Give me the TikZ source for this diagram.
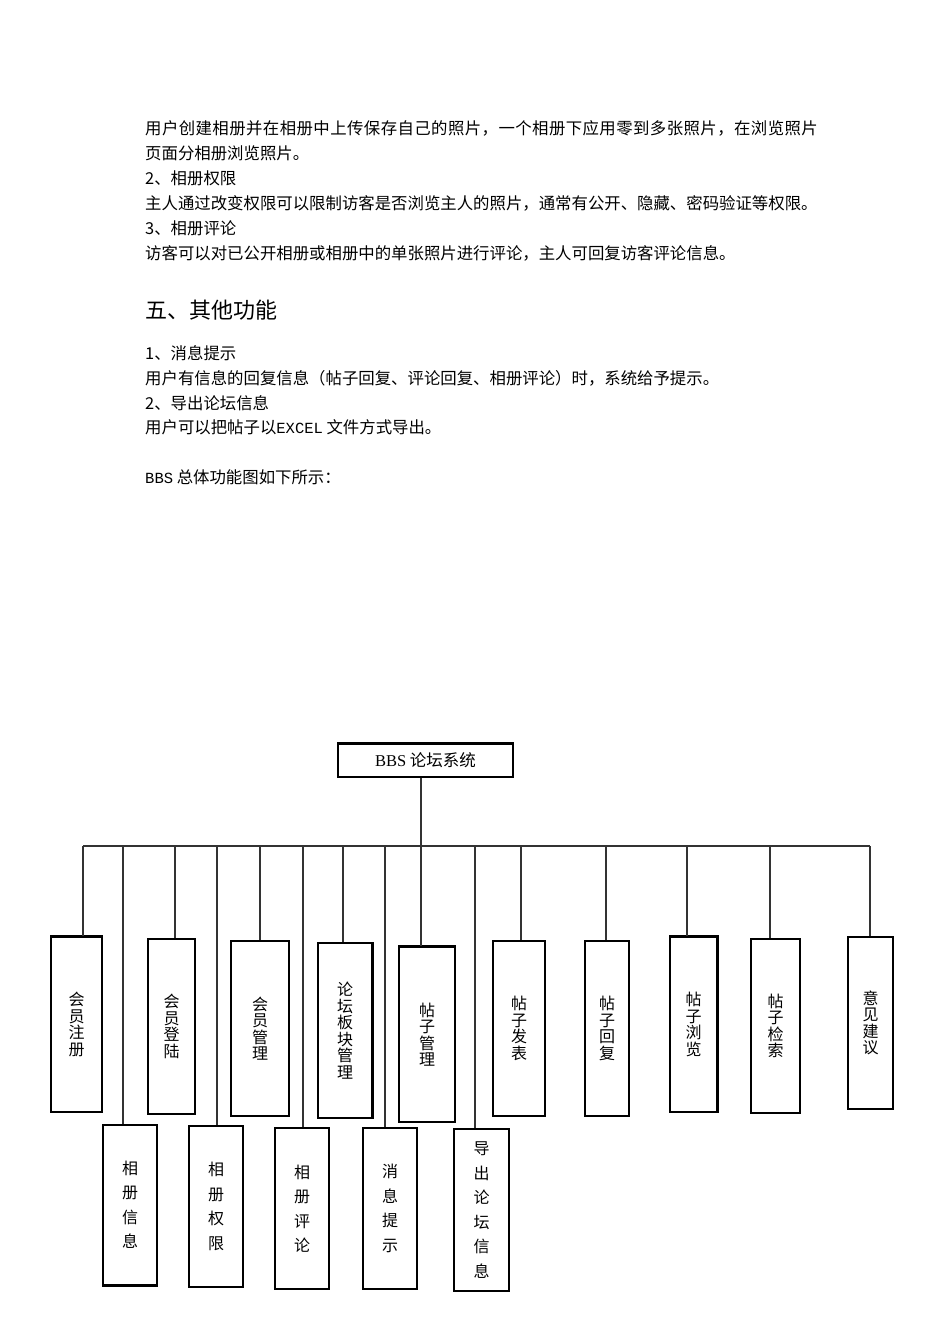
\documentclass[tikz,border=0pt]{standalone}
\usepackage{fontspec}
\setmainfont{Noto Sans CJK SC}
\newfontfamily\latn{Liberation Mono}
\newfontfamily\seri{Liberation Serif}
\begin{document}
\begin{tikzpicture}[x=1pt,y=-1pt,
  txt/.style={anchor=west, inner sep=0pt, font=\fontsize{16.4}{18}\selectfont, text height=14.4pt, text depth=2pt},
  head/.style={anchor=west, inner sep=0pt, font=\fontsize{22}{24}\selectfont, text height=19.4pt, text depth=2.6pt},
  topbox/.style={draw, line width=1.2pt, inner sep=0pt, align=center, font=\fontsize{16}{16.5}\selectfont},
  lowbox/.style={draw, line width=1.2pt, inner sep=0pt, align=center, font=\fontsize{16}{24.5}\selectfont},
  link/.style={draw=black!80, line width=1.4pt},
  heavy/.style={line width=2.4pt}]
\useasboundingbox[fill=white] (0,0) rectangle (950,1344);

% ---- body text ----
\node[txt] (t1) at (145,128) {\addfontfeature{LetterSpace=2.6}用户创建相册并在相册中上传保存自己的照片，一个相册下应用零到多张照片，在浏览照片};
\node[txt] (t2) at (145,153) {页面分相册浏览照片。};
\node[txt] (t3) at (145,178) {2、相册权限};
\node[txt] (t4) at (145,203) {主人通过改变权限可以限制访客是否浏览主人的照片，通常有公开、隐藏、密码验证等权限。};
\node[txt] (t5) at (145,228) {3、相册评论};
\node[txt] (t6) at (145,253) {访客可以对已公开相册或相册中的单张照片进行评论，主人可回复访客评论信息。};
\node[head] (h1) at (145,310) {五、其他功能};
\node[txt] (t7) at (145,353) {1、消息提示};
\node[txt] (t8) at (145,378) {用户有信息的回复信息（帖子回复、评论回复、相册评论）时，系统给予提示。};
\node[txt] (t9) at (145,403) {2、导出论坛信息};
\node[txt] (t10) at (145,427) {用户可以把帖子以{\latn\fontsize{15.5}{18}\selectfont EXCEL} 文件方式导出。};
\node[txt] (t11) at (145,477) {{\latn\fontsize{15.5}{18}\selectfont BBS} 总体功能图如下所示：};

% ---- root ----
\node[draw, line width=1.2pt, minimum width=175pt, minimum height=33pt, inner sep=0pt,
      font=\fontsize{16.5}{18}\selectfont] (root) at (425.5,760.5) {{\seri BBS} 论坛系统};
\draw[heavy] (root.north west) -- (root.north east);

% ---- top row boxes ----
\node[topbox, minimum width=51pt, minimum height=175pt] (b1) at (76.5,1024.5) {会\\员\\注\\册};
\node[topbox, minimum width=47pt, minimum height=175pt] (b3) at (171.5,1026.5) {会\\员\\登\\陆};
\node[topbox, minimum width=58pt, minimum height=175pt] (b5) at (260,1028.5) {会\\员\\管\\理};
\node[topbox, minimum width=54pt, minimum height=175pt] (b7) at (345,1030.5) {论\\坛\\板\\块\\管\\理};
\node[topbox, minimum width=56pt, minimum height=175pt] (b9) at (427,1034.5) {帖\\子\\管\\理};
\node[topbox, minimum width=52pt, minimum height=175pt] (b11) at (519,1028.5) {帖\\子\\发\\表};
\node[topbox, minimum width=44pt, minimum height=175pt] (b12) at (607,1028.5) {帖\\子\\回\\复};
\node[topbox, minimum width=47pt, minimum height=175pt] (b13) at (693.5,1024.5) {帖\\子\\浏\\览};
\node[topbox, minimum width=49pt, minimum height=174pt] (b14) at (775.5,1026) {帖\\子\\检\\索};
\node[topbox, minimum width=45pt, minimum height=172pt] (b15) at (870.5,1023) {意\\见\\建\\议};

% ---- bottom row boxes ----
\node[lowbox, minimum width=54pt, minimum height=160pt] (d1) at (130,1205) {相\\册\\信\\息};
\node[lowbox, minimum width=54pt, minimum height=161pt] (d2) at (216,1206.5) {相\\册\\权\\限};
\node[lowbox, minimum width=54pt, minimum height=161pt] (d3) at (302,1208.5) {相\\册\\评\\论};
\node[lowbox, minimum width=54pt, minimum height=161pt] (d4) at (390,1208.5) {消\\息\\提\\示};
\node[lowbox, minimum width=55pt, minimum height=162pt] (d5) at (481.5,1210) {导\\出\\论\\坛\\信\\息};

% heavier edges
\draw[heavy] (b1.north west) -- (b1.north east);
\draw[heavy] (b9.north west) -- (b9.north east);
\draw[heavy] (b13.north west) -- (b13.north east) -- (b13.south east);
\draw[heavy, line width=2pt] (b7.north east) -- (b7.south east);
\draw[heavy] (d1.south west) -- (d1.south east);

% ---- bus and connectors ----
\coordinate (busL) at (83,846);
\coordinate (busR) at (870,846);
\draw[link] (busL) -- (busR);
\coordinate (j1) at (83,846);
\coordinate (j2) at (123,846);
\coordinate (j3) at (175,846);
\coordinate (j4) at (217,846);
\coordinate (j5) at (260,846);
\coordinate (j6) at (303,846);
\coordinate (j7) at (343,846);
\coordinate (j8) at (385,846);
\coordinate (j9) at (421,846);
\coordinate (j10) at (475,846);
\coordinate (j11) at (521,846);
\coordinate (j12) at (606,846);
\coordinate (j13) at (687,846);
\coordinate (j14) at (770,846);
\coordinate (j15) at (870,846);

\draw[link] (root.south -| j9) -- (j9 |- b9.north);
\draw[link] (j1) -- (j1 |- b1.north);
\draw[link] (j3) -- (j3 |- b3.north);
\draw[link] (j5) -- (j5 |- b5.north);
\draw[link] (j7) -- (j7 |- b7.north);
\draw[link] (j11) -- (j11 |- b11.north);
\draw[link] (j12) -- (j12 |- b12.north);
\draw[link] (j13) -- (j13 |- b13.north);
\draw[link] (j14) -- (j14 |- b14.north);
\draw[link] (j15) -- (j15 |- b15.north);
\draw[link] (j2) -- (j2 |- d1.north);
\draw[link] (j4) -- (j4 |- d2.north);
\draw[link] (j6) -- (j6 |- d3.north);
\draw[link] (j8) -- (j8 |- d4.north);
\draw[link] (j10) -- (j10 |- d5.north);
\end{tikzpicture}
\end{document}
